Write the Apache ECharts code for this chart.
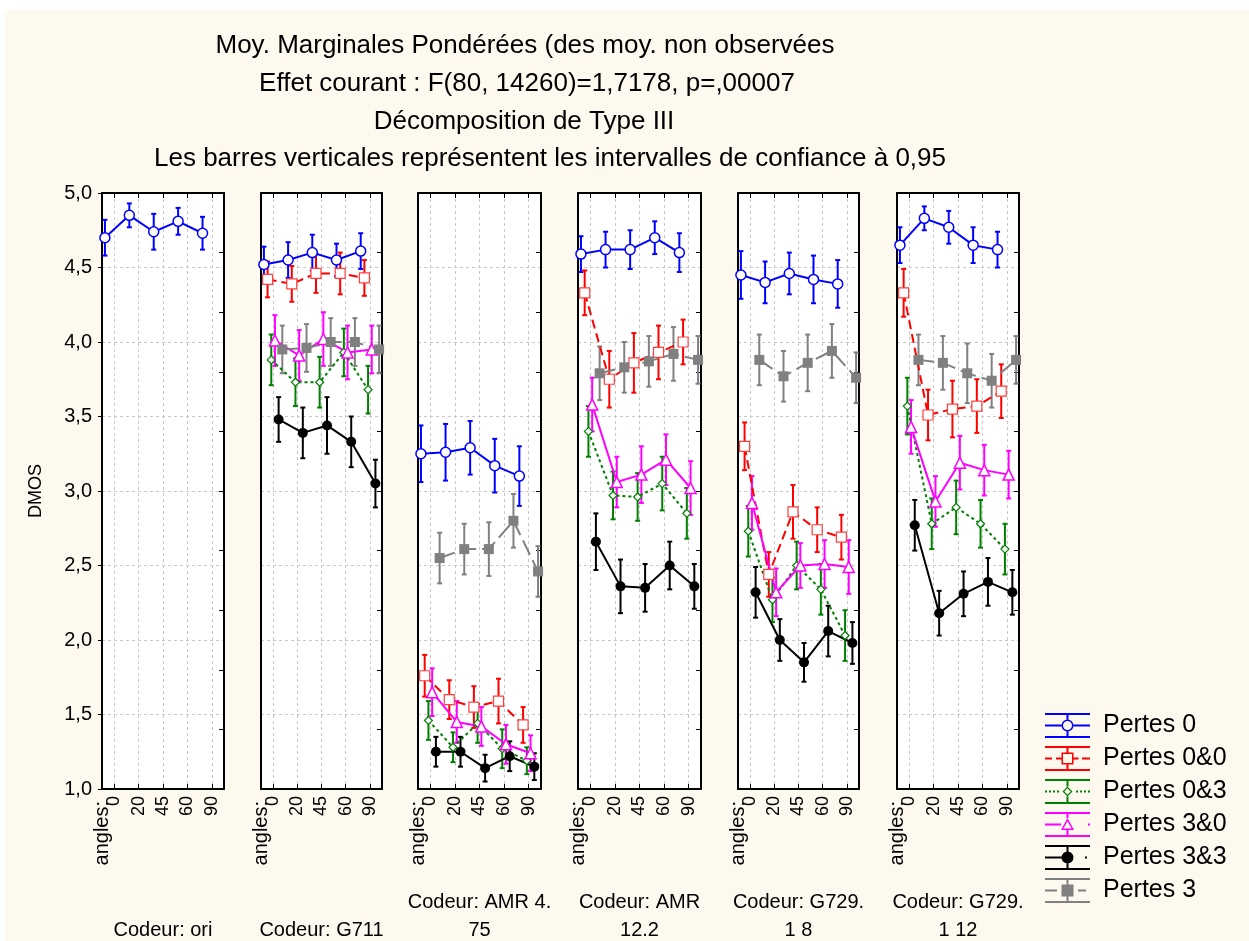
<!DOCTYPE html>
<html>
<head>
<meta charset="utf-8">
<script src="https://cdn.jsdelivr.net/npm/echarts/dist/echarts.min.js"></script>
<style>
html, body { margin: 0; padding: 0; background: #fff; }
#paper { position: absolute; left: 5px; top: 10px; width: 1244px; height: 931px; background: #fdf9ee; }
#main { position: absolute; left: 0; top: 0; width: 1249px; height: 941px; }
</style>
</head>
<body>
<div id="paper"></div>
<div id="main"></div>
<script>
// data
const ANGLES = ['0', '20', '45', '60', '90'];
const CODECS = ['\nCodeur: ori', '\nCodeur: G711', 'Codeur: AMR 4.\n75', 'Codeur: AMR\n12.2', 'Codeur: G729.\n1 8', 'Codeur: G729.\n1 12'];
const SERIES_NAMES = ['Pertes 0', 'Pertes 0&0', 'Pertes 0&3', 'Pertes 3&0', 'Pertes 3&3', 'Pertes 3'];
const TITLE_LINES = [
    'Moy. Marginales Pondérées (des moy. non observées',
    'Effet courant : F(80, 14260)=1,7178, p=,00007',
    'Décomposition de Type III',
    'Les barres verticales représentent les intervalles de confiance à 0,95'
];

// one row per codec panel, null = not present
const P0_MEAN = [
    [4.70, 4.85, 4.74, 4.81, 4.73],
    [4.52, 4.55, 4.60, 4.55, 4.61],
    [3.25, 3.26, 3.29, 3.17, 3.10],
    [4.59, 4.62, 4.62, 4.70, 4.60],
    [4.45, 4.40, 4.46, 4.42, 4.39],
    [4.65, 4.83, 4.77, 4.65, 4.62]
];
const P0_CI = [
    [0.12, 0.08, 0.12, 0.09, 0.11],
    [0.12, 0.12, 0.12, 0.11, 0.12],
    [0.19, 0.19, 0.18, 0.18, 0.20],
    [0.12, 0.12, 0.13, 0.11, 0.13],
    [0.16, 0.14, 0.14, 0.16, 0.16],
    [0.12, 0.08, 0.11, 0.12, 0.12]
];
const P00_MEAN = [
    null,
    [4.42, 4.39, 4.46, 4.46, 4.43],
    [1.76, 1.60, 1.55, 1.59, 1.43],
    [4.33, 3.75, 3.86, 3.93, 4.00],
    [3.30, 2.44, 2.86, 2.74, 2.69],
    [4.33, 3.51, 3.55, 3.57, 3.67]
];
const P00_CI = [
    null,
    [0.12, 0.12, 0.13, 0.14, 0.12],
    [0.14, 0.13, 0.14, 0.15, 0.12],
    [0.15, 0.19, 0.20, 0.18, 0.15],
    [0.16, 0.15, 0.18, 0.15, 0.15],
    [0.16, 0.17, 0.19, 0.18, 0.18]
];
const P03_MEAN = [
    null,
    [3.88, 3.73, 3.73, 3.93, 3.68],
    [1.46, 1.28, 1.44, 1.27, 1.19],
    [3.40, 2.97, 2.96, 3.05, 2.85],
    [2.73, 2.27, 2.50, 2.34, 2.03],
    [3.57, 2.78, 2.89, 2.78, 2.61]
];
const P03_CI = [
    null,
    [0.17, 0.16, 0.17, 0.16, 0.16],
    [0.13, 0.10, 0.13, 0.13, 0.09],
    [0.17, 0.16, 0.16, 0.18, 0.17],
    [0.17, 0.15, 0.16, 0.17, 0.17],
    [0.19, 0.17, 0.18, 0.16, 0.17]
];
const P30_MEAN = [
    null,
    [4.01, 3.91, 4.02, 3.93, 3.95],
    [1.65, 1.45, 1.42, 1.30, 1.24],
    [3.58, 3.06, 3.11, 3.21, 3.02],
    [2.92, 2.32, 2.50, 2.51, 2.49],
    [3.43, 2.93, 3.19, 3.14, 3.11]
];
const P30_CI = [
    null,
    [0.17, 0.17, 0.18, 0.18, 0.16],
    [0.16, 0.14, 0.13, 0.13, 0.12],
    [0.18, 0.17, 0.19, 0.17, 0.18],
    [0.18, 0.16, 0.15, 0.16, 0.18],
    [0.18, 0.17, 0.18, 0.17, 0.16]
];
const P33_MEAN = [
    null,
    [3.48, 3.39, 3.44, 3.33, 3.05],
    [1.25, 1.25, 1.14, 1.22, 1.15],
    [2.66, 2.36, 2.35, 2.50, 2.36],
    [2.32, 2.00, 1.85, 2.06, 1.98],
    [2.77, 2.18, 2.31, 2.39, 2.32]
];
const P33_CI = [
    null,
    [0.15, 0.17, 0.19, 0.17, 0.16],
    [0.10, 0.10, 0.09, 0.10, 0.09],
    [0.19, 0.18, 0.16, 0.16, 0.15],
    [0.17, 0.14, 0.13, 0.17, 0.14],
    [0.17, 0.15, 0.15, 0.16, 0.15]
];
const P3_MEAN = [
    null,
    [3.95, 3.96, 4.00, 4.00, 3.95],
    [2.55, 2.61, 2.61, 2.80, 2.46],
    [3.79, 3.83, 3.87, 3.92, 3.88],
    [3.88, 3.77, 3.86, 3.94, 3.76],
    [3.88, 3.86, 3.79, 3.74, 3.88]
];
const P3_CI = [
    null,
    [0.16, 0.16, 0.16, 0.16, 0.16],
    [0.17, 0.17, 0.18, 0.18, 0.17],
    [0.18, 0.17, 0.17, 0.18, 0.16],
    [0.17, 0.17, 0.19, 0.18, 0.17],
    [0.17, 0.18, 0.20, 0.18, 0.16]
];

const MEANS = [P0_MEAN, P00_MEAN, P03_MEAN, P30_MEAN, P33_MEAN, P3_MEAN];
const CIS = [P0_CI, P00_CI, P03_CI, P30_CI, P33_CI, P3_CI];

// layout / style
const FONT = 'Liberation Sans';
const PANEL_LEFT = [102, 261, 418, 578, 738, 897];
const PANEL_WIDTH = [122, 121, 123, 123, 121, 122];
const PANEL_TOP = 193, PANEL_H = 596;
const DODGE = 0.152; // horizontal shift between series, in category units
const TITLE_X = [525, 527, 524, 550];
const TITLE_Y = [46, 84, 122, 159];

const STYLES = [
    { color: '#0000ff', symbol: 'circle', size: 10, fill: '#fff', border: '#0000ff', bw: 1.5, dash: 'solid' },
    { color: '#ff0000', symbol: 'rect', size: 10, fill: '#fff', border: '#ff4040', bw: 1.2, dash: [9, 5] },
    { color: '#008000', symbol: 'diamond', size: 8, fill: '#fff', border: '#008000', bw: 1.2, dash: [3, 3] },
    { color: '#ff00ff', symbol: 'triangle', size: 11, fill: '#fff', border: '#ff00ff', bw: 1.5, dash: 'solid' },
    { color: '#000000', symbol: 'circle', size: 10, fill: '#000', border: '#000', bw: 0, dash: 'solid' },
    { color: '#808080', symbol: 'rect', size: 10, fill: '#808080', border: '#808080', bw: 0, dash: [16, 6] }
];

// legend icons: error bar look, 45x25 box
function R(x, y, w, h) { return 'M' + x + ' ' + y + 'h' + w + 'v' + h + 'h' + (-w) + 'Z'; }
const BARS = R(0, 0, 45, 2) + R(0, 23, 45, 2);
const CIRCLE = 'M16.5 12.5A6 6 0 1 1 28.5 12.5A6 6 0 1 1 16.5 12.5Z';
const LEGEND_ICONS = [
    BARS + R(21.5, 0, 2, 6.5) + R(21.5, 18.5, 2, 6.5) + R(0, 11.5, 16.5, 2) + R(28.5, 11.5, 16.5, 2)
        + CIRCLE + 'M18 12.5A4.5 4.5 0 1 0 27 12.5A4.5 4.5 0 1 0 18 12.5Z',
    BARS + R(21.5, 0, 2, 6.5) + R(21.5, 18.5, 2, 6.5) + R(0, 11.5, 7, 2) + R(11, 11.5, 5.5, 2) + R(28.5, 11.5, 5, 2) + R(37, 11.5, 8, 2)
        + R(16.5, 6.5, 12, 12) + 'M18 8v9h9v-9Z',
    BARS + R(21.5, 0, 2, 7.5) + R(21.5, 17.5, 2, 7.5)
        + R(0, 11.5, 2, 2) + R(4, 11.5, 2, 2) + R(8, 11.5, 2, 2) + R(12, 11.5, 2, 2)
        + R(31, 11.5, 2, 2) + R(35, 11.5, 2, 2) + R(39, 11.5, 2, 2) + R(43, 11.5, 2, 2)
        + 'M22.5 7.5L27.5 12.5L22.5 17.5L17.5 12.5Z' + 'M22.5 9.3L19.3 12.5L22.5 15.7L25.7 12.5Z',
    BARS + R(21.5, 0, 2, 6) + R(21.5, 18, 2, 7) + R(0, 11.5, 16, 2) + R(43, 11.5, 2, 2)
        + 'M22.5 6L29 18L16 18Z' + 'M22.5 9.2L18.4 16.6L26.6 16.6Z',
    BARS + R(21.5, 0, 2, 25) + R(0, 11.5, 17, 2) + R(40, 11.5, 2, 2) + CIRCLE,
    BARS + R(21.5, 0, 2, 25) + R(0, 11.5, 12, 2) + R(33, 11.5, 8, 2) + R(16.5, 6.5, 12, 12)
];

function errBar(color) {
    return function (params, api) {
        const x = api.value(0);
        const top = api.coord([x, api.value(2)]);
        const bot = api.coord([x, api.value(1)]);
        const h = 2.5;
        const st = { stroke: color, lineWidth: 2 };
        return {
            type: 'group',
            children: [
                { type: 'line', shape: { x1: top[0], y1: top[1], x2: bot[0], y2: bot[1] }, style: st },
                { type: 'line', shape: { x1: top[0] - h, y1: top[1], x2: top[0] + h, y2: top[1] }, style: st },
                { type: 'line', shape: { x1: bot[0] - h, y1: bot[1], x2: bot[0] + h, y2: bot[1] }, style: st }
            ]
        };
    };
}

const grids = [], xAxes = [], yAxes = [], series = [], graphics = [];
const axisLine = { show: true, onZero: false, lineStyle: { color: '#000', width: 2 } };
const gridLine = { show: true, lineStyle: { color: '#c8c8c8', width: 1, type: [3, 3] } };

for (let p = 0; p < 6; p++) {
    grids.push({
        left: PANEL_LEFT[p], top: PANEL_TOP, width: PANEL_WIDTH[p], height: PANEL_H,
        show: true, backgroundColor: '#fff', borderWidth: 0, outerBoundsMode: 'none'
    });
    // bottom category axis: ticks, labels, vertical grid lines, codec name
    xAxes.push({
        type: 'category', gridIndex: p, data: ANGLES, position: 'bottom', boundaryGap: true,
        axisLine: axisLine,
        axisTick: { show: true, inside: true, length: 5, alignWithLabel: true, lineStyle: { color: '#000', width: 1 } },
        axisLabel: { rotate: 90, fontSize: 18, color: '#000', margin: 7, fontFamily: FONT },
        splitLine: Object.assign({ alignWithLabel: true, interval: 0 }, gridLine),
        name: CODECS[p], nameLocation: 'middle', nameGap: 99,
        nameTextStyle: { fontSize: 20, lineHeight: 28, color: '#000', fontFamily: FONT }
    });
    // top frame
    xAxes.push({
        type: 'category', gridIndex: p, data: ANGLES, position: 'top', boundaryGap: true,
        axisLine: axisLine,
        axisTick: { show: true, inside: true, length: 5, alignWithLabel: true, lineStyle: { color: '#000', width: 1 } },
        axisLabel: { show: false }, splitLine: { show: false }
    });
    // hidden value axis carrying the dodged points
    xAxes.push({ type: 'value', gridIndex: p, min: -0.5, max: 4.5, show: false });

    yAxes.push({
        type: 'value', gridIndex: p, min: 1, max: 5, interval: 0.5, position: 'left',
        axisLine: axisLine,
        axisTick: { show: p === 0, inside: false, length: 4, lineStyle: { color: '#000', width: 1 } },
        axisLabel: {
            show: p === 0, fontSize: 20, color: '#000', margin: 10, fontFamily: FONT,
            formatter: v => v.toFixed(1).replace('.', ',')
        },
        splitLine: gridLine,
        name: p === 0 ? 'DMOS' : '', nameLocation: 'middle', nameGap: 57,
        nameTextStyle: { fontSize: 18, color: '#000', fontFamily: FONT }
    });
    yAxes.push({
        type: 'value', gridIndex: p, min: 1, max: 5, interval: 0.4, position: 'right',
        axisLine: axisLine,
        axisTick: { show: true, inside: true, length: 5, lineStyle: { color: '#000', width: 1 } },
        axisLabel: { show: false }, splitLine: { show: false }
    });

    graphics.push({
        type: 'text', x: PANEL_LEFT[p] + 0.5, y: 801, rotation: Math.PI / 2, z: 10,
        style: {
            text: 'angles:', fill: '#000', font: '20px ' + FONT,
            align: 'right', verticalAlign: 'middle', textAlign: 'right', textVerticalAlign: 'middle'
        }
    });

    for (let k = 0; k < 6; k++) {
        const m = MEANS[k][p];
        if (!m) continue;
        const c = CIS[k][p];
        const off = (k - 2.5) * DODGE;
        const st = STYLES[k];
        series.push({
            name: SERIES_NAMES[k], type: 'custom', xAxisIndex: 3 * p + 2, yAxisIndex: 2 * p,
            renderItem: errBar(st.color), clip: true, silent: true,
            data: m.map((v, i) => [i + off, v - c[i], v + c[i]]),
            encode: { x: 0, y: [1, 2] }
        });
        series.push({
            name: SERIES_NAMES[k], type: 'line', xAxisIndex: 3 * p + 2, yAxisIndex: 2 * p,
            data: m.map((v, i) => [i + off, v]),
            symbol: st.symbol, symbolSize: st.size, showSymbol: true,
            itemStyle: { color: st.fill, borderColor: st.border, borderWidth: st.bw },
            lineStyle: { color: st.color, width: 2, type: st.dash },
            silent: true
        });
    }
}

const chart = echarts.init(document.getElementById('main'));
chart.setOption({
    animation: false,
    textStyle: { fontFamily: FONT },
    title: TITLE_LINES.map((t, i) => ({
        text: t, left: TITLE_X[i], top: TITLE_Y[i] - 15, textAlign: 'center', padding: 0,
        textStyle: { fontSize: 26, fontWeight: 'normal', color: '#000', lineHeight: 30, fontFamily: FONT }
    })),
    legend: {
        orient: 'vertical', left: 1045, top: 713, padding: 0,
        itemWidth: 45, itemHeight: 25, itemGap: 8, selectedMode: false,
        textStyle: { fontSize: 25, color: '#000', lineHeight: 25, padding: [0, 0, 0, 8], fontFamily: FONT },
        data: SERIES_NAMES.map((n, k) => ({
            name: n, icon: 'path://' + LEGEND_ICONS[k],
            itemStyle: { color: STYLES[k].color, borderWidth: 0 }
        }))
    },
    grid: grids,
    xAxis: xAxes,
    yAxis: yAxes,
    graphic: graphics,
    series: series
});
</script>
</body>
</html>
